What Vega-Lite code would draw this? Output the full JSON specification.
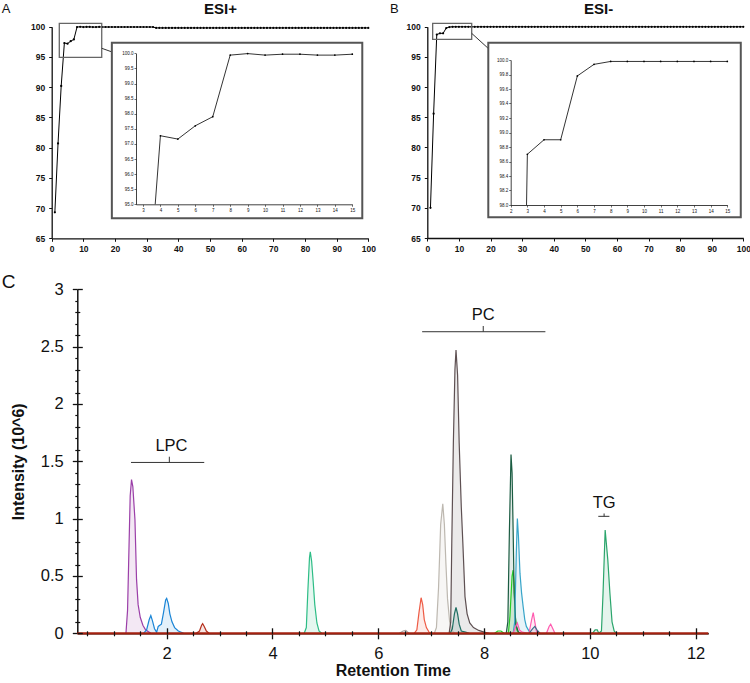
{
"$schema":"https://vega.github.io/schema/vega-lite/v6.json",
"width":750,"height":683,"autosize":"none","padding":0,"background":"white",
"config":{"view":{"stroke":null},"axis":{"grid":false,"labelFont":"Liberation Sans","titleFont":"Liberation Sans","domainColor":"#111","tickColor":"#111","labelColor":"#111","titleColor":"#111","labelFlush":false,"labelOverlap":false},"text":{"font":"Liberation Sans","color":"#111"}},
"datasets":{
"posMain":[{"x":1,"y":69.3},{"x":2,"y":80.7},{"x":3,"y":90.2},{"x":4,"y":97.3},{"x":5,"y":97.2},{"x":6,"y":97.6},{"x":7,"y":97.9},{"x":8,"y":99.94},{"x":9,"y":99.99},{"x":10,"y":99.94},{"x":11,"y":99.97},{"x":12,"y":99.97},{"x":13,"y":99.94},{"x":14,"y":99.94},{"x":15,"y":99.97},{"x":16,"y":99.95},{"x":17,"y":99.95},{"x":18,"y":99.95},{"x":19,"y":99.95},{"x":20,"y":99.95},{"x":21,"y":99.95},{"x":22,"y":99.95},{"x":23,"y":99.95},{"x":24,"y":99.95},{"x":25,"y":99.95},{"x":26,"y":99.95},{"x":27,"y":99.95},{"x":28,"y":99.95},{"x":29,"y":99.95},{"x":30,"y":99.95},{"x":31,"y":99.95},{"x":32,"y":99.95},{"x":33,"y":99.8},{"x":34,"y":99.8},{"x":35,"y":99.8},{"x":36,"y":99.8},{"x":37,"y":99.8},{"x":38,"y":99.8},{"x":39,"y":99.8},{"x":40,"y":99.8},{"x":41,"y":99.8},{"x":42,"y":99.8},{"x":43,"y":99.8},{"x":44,"y":99.8},{"x":45,"y":99.8},{"x":46,"y":99.8},{"x":47,"y":99.8},{"x":48,"y":99.8},{"x":49,"y":99.8},{"x":50,"y":99.8},{"x":51,"y":99.8},{"x":52,"y":99.8},{"x":53,"y":99.8},{"x":54,"y":99.8},{"x":55,"y":99.8},{"x":56,"y":99.8},{"x":57,"y":99.8},{"x":58,"y":99.8},{"x":59,"y":99.8},{"x":60,"y":99.8},{"x":61,"y":99.8},{"x":62,"y":99.8},{"x":63,"y":99.8},{"x":64,"y":99.8},{"x":65,"y":99.8},{"x":66,"y":99.8},{"x":67,"y":99.8},{"x":68,"y":99.8},{"x":69,"y":99.8},{"x":70,"y":99.8},{"x":71,"y":99.8},{"x":72,"y":99.8},{"x":73,"y":99.8},{"x":74,"y":99.8},{"x":75,"y":99.8},{"x":76,"y":99.8},{"x":77,"y":99.8},{"x":78,"y":99.8},{"x":79,"y":99.8},{"x":80,"y":99.8},{"x":81,"y":99.8},{"x":82,"y":99.8},{"x":83,"y":99.8},{"x":84,"y":99.8},{"x":85,"y":99.8},{"x":86,"y":99.8},{"x":87,"y":99.8},{"x":88,"y":99.8},{"x":89,"y":99.8},{"x":90,"y":99.8},{"x":91,"y":99.8},{"x":92,"y":99.8},{"x":93,"y":99.8},{"x":94,"y":99.8},{"x":95,"y":99.8},{"x":96,"y":99.8},{"x":97,"y":99.8},{"x":98,"y":99.8},{"x":99,"y":99.8},{"x":100,"y":99.8}],
"negMain":[{"x":1,"y":70.0},{"x":2,"y":85.6},{"x":3,"y":98.7},{"x":4,"y":98.9},{"x":5,"y":98.9},{"x":6,"y":99.78},{"x":7,"y":99.94},{"x":8,"y":99.98},{"x":9,"y":99.98},{"x":10,"y":99.98},{"x":11,"y":99.98},{"x":12,"y":99.98},{"x":13,"y":99.98},{"x":14,"y":99.98},{"x":15,"y":99.98},{"x":16,"y":99.98},{"x":17,"y":99.98},{"x":18,"y":99.98},{"x":19,"y":99.98},{"x":20,"y":99.98},{"x":21,"y":99.98},{"x":22,"y":99.98},{"x":23,"y":99.98},{"x":24,"y":99.98},{"x":25,"y":99.98},{"x":26,"y":99.98},{"x":27,"y":99.98},{"x":28,"y":99.98},{"x":29,"y":99.98},{"x":30,"y":99.98},{"x":31,"y":99.98},{"x":32,"y":99.98},{"x":33,"y":99.98},{"x":34,"y":99.98},{"x":35,"y":99.98},{"x":36,"y":99.98},{"x":37,"y":99.98},{"x":38,"y":99.98},{"x":39,"y":99.98},{"x":40,"y":99.98},{"x":41,"y":99.98},{"x":42,"y":99.98},{"x":43,"y":99.98},{"x":44,"y":99.98},{"x":45,"y":99.98},{"x":46,"y":99.98},{"x":47,"y":99.98},{"x":48,"y":99.98},{"x":49,"y":99.98},{"x":50,"y":99.98},{"x":51,"y":99.98},{"x":52,"y":99.98},{"x":53,"y":99.98},{"x":54,"y":99.98},{"x":55,"y":99.98},{"x":56,"y":99.98},{"x":57,"y":99.98},{"x":58,"y":99.98},{"x":59,"y":99.98},{"x":60,"y":99.98},{"x":61,"y":99.98},{"x":62,"y":99.98},{"x":63,"y":99.98},{"x":64,"y":99.98},{"x":65,"y":99.98},{"x":66,"y":99.98},{"x":67,"y":99.98},{"x":68,"y":99.98},{"x":69,"y":99.98},{"x":70,"y":99.98},{"x":71,"y":99.98},{"x":72,"y":99.98},{"x":73,"y":99.98},{"x":74,"y":99.98},{"x":75,"y":99.98},{"x":76,"y":99.98},{"x":77,"y":99.98},{"x":78,"y":99.98},{"x":79,"y":99.98},{"x":80,"y":99.98},{"x":81,"y":99.98},{"x":82,"y":99.98},{"x":83,"y":99.98},{"x":84,"y":99.98},{"x":85,"y":99.98},{"x":86,"y":99.98},{"x":87,"y":99.98},{"x":88,"y":99.98},{"x":89,"y":99.98},{"x":90,"y":99.98},{"x":91,"y":99.98},{"x":92,"y":99.98},{"x":93,"y":99.98},{"x":94,"y":99.98},{"x":95,"y":99.98},{"x":96,"y":99.98},{"x":97,"y":99.98},{"x":98,"y":99.98},{"x":99,"y":99.98},{"x":100,"y":99.98}],
"posInset":[{"x":3.7,"y":95.0},{"x":4,"y":97.27},{"x":5,"y":97.16},{"x":6,"y":97.6},{"x":7,"y":97.9},{"x":8,"y":99.94},{"x":9,"y":99.99},{"x":10,"y":99.94},{"x":11,"y":99.97},{"x":12,"y":99.97},{"x":13,"y":99.94},{"x":14,"y":99.94},{"x":15,"y":99.97}],
"negInset":[{"x":2.95,"y":98.0},{"x":3,"y":98.7},{"x":4,"y":98.9},{"x":5,"y":98.9},{"x":6,"y":99.78},{"x":7,"y":99.94},{"x":8,"y":99.98},{"x":9,"y":99.98},{"x":10,"y":99.98},{"x":11,"y":99.98},{"x":12,"y":99.98},{"x":13,"y":99.98},{"x":14,"y":99.98},{"x":15,"y":99.98}],
"chrom":[
{"s":"LPC1","x":1.23,"y":0},{"s":"LPC1","x":1.26,"y":0.2},{"s":"LPC1","x":1.28,"y":0.6},{"s":"LPC1","x":1.31,"y":1.2},{"s":"LPC1","x":1.335,"y":1.34},{"s":"LPC1","x":1.36,"y":1.28},{"s":"LPC1","x":1.40,"y":0.99},{"s":"LPC1","x":1.43,"y":0.47},{"s":"LPC1","x":1.46,"y":0.25},{"s":"LPC1","x":1.50,"y":0.14},{"s":"LPC1","x":1.55,"y":0.07},{"s":"LPC1","x":1.60,"y":0.03},{"s":"LPC1","x":1.70,"y":0},
{"s":"LPC2","x":1.56,"y":0},{"s":"LPC2","x":1.62,"y":0.03},{"s":"LPC2","x":1.67,"y":0.12},{"s":"LPC2","x":1.70,"y":0.155},{"s":"LPC2","x":1.73,"y":0.11},{"s":"LPC2","x":1.77,"y":0.04},{"s":"LPC2","x":1.81,"y":0.01},{"s":"LPC2","x":1.84,"y":0.06},{"s":"LPC2","x":1.87,"y":0.07},{"s":"LPC2","x":1.90,"y":0.08},{"s":"LPC2","x":1.94,"y":0.18},{"s":"LPC2","x":1.98,"y":0.29},{"s":"LPC2","x":2.00,"y":0.305},{"s":"LPC2","x":2.03,"y":0.26},{"s":"LPC2","x":2.06,"y":0.17},{"s":"LPC2","x":2.10,"y":0.1},{"s":"LPC2","x":2.15,"y":0.05},{"s":"LPC2","x":2.22,"y":0.02},{"s":"LPC2","x":2.32,"y":0},
{"s":"LPC3","x":2.56,"y":0},{"s":"LPC3","x":2.62,"y":0.02},{"s":"LPC3","x":2.66,"y":0.07},{"s":"LPC3","x":2.68,"y":0.084},{"s":"LPC3","x":2.71,"y":0.06},{"s":"LPC3","x":2.75,"y":0.02},{"s":"LPC3","x":2.80,"y":0},
{"s":"P47","x":4.60,"y":0},{"s":"P47","x":4.64,"y":0.05},{"s":"P47","x":4.67,"y":0.38},{"s":"P47","x":4.70,"y":0.66},{"s":"P47","x":4.715,"y":0.71},{"s":"P47","x":4.74,"y":0.63},{"s":"P47","x":4.77,"y":0.45},{"s":"P47","x":4.80,"y":0.25},{"s":"P47","x":4.84,"y":0.09},{"s":"P47","x":4.88,"y":0.02},{"s":"P47","x":4.93,"y":0},
{"s":"PC0","x":6.40,"y":0},{"s":"PC0","x":6.47,"y":0.02},{"s":"PC0","x":6.52,"y":0.025},{"s":"PC0","x":6.58,"y":0},
{"s":"PC1","x":6.68,"y":0},{"s":"PC1","x":6.73,"y":0.03},{"s":"PC1","x":6.77,"y":0.18},{"s":"PC1","x":6.81,"y":0.31},{"s":"PC1","x":6.84,"y":0.25},{"s":"PC1","x":6.87,"y":0.12},{"s":"PC1","x":6.91,"y":0.05},{"s":"PC1","x":6.96,"y":0.01},{"s":"PC1","x":7.0,"y":0},
{"s":"PC2","x":7.06,"y":0},{"s":"PC2","x":7.10,"y":0.05},{"s":"PC2","x":7.14,"y":0.4},{"s":"PC2","x":7.18,"y":0.95},{"s":"PC2","x":7.22,"y":1.13},{"s":"PC2","x":7.25,"y":0.95},{"s":"PC2","x":7.28,"y":0.6},{"s":"PC2","x":7.31,"y":0.3},{"s":"PC2","x":7.35,"y":0.1},{"s":"PC2","x":7.40,"y":0.02},{"s":"PC2","x":7.45,"y":0},
{"s":"PC3","x":7.34,"y":0},{"s":"PC3","x":7.37,"y":0.1},{"s":"PC3","x":7.39,"y":0.78},{"s":"PC3","x":7.42,"y":1.66},{"s":"PC3","x":7.45,"y":2.3},{"s":"PC3","x":7.47,"y":2.47},{"s":"PC3","x":7.50,"y":2.25},{"s":"PC3","x":7.53,"y":1.66},{"s":"PC3","x":7.57,"y":1.1},{"s":"PC3","x":7.60,"y":0.78},{"s":"PC3","x":7.64,"y":0.32},{"s":"PC3","x":7.68,"y":0.17},{"s":"PC3","x":7.73,"y":0.09},{"s":"PC3","x":7.80,"y":0.05},{"s":"PC3","x":7.90,"y":0.025},{"s":"PC3","x":8.0,"y":0.01},{"s":"PC3","x":8.1,"y":0},
{"s":"PC4","x":7.36,"y":0},{"s":"PC4","x":7.40,"y":0.04},{"s":"PC4","x":7.44,"y":0.17},{"s":"PC4","x":7.47,"y":0.225},{"s":"PC4","x":7.50,"y":0.17},{"s":"PC4","x":7.53,"y":0.08},{"s":"PC4","x":7.57,"y":0.02},{"s":"PC4","x":7.65,"y":0.01},{"s":"PC4","x":7.72,"y":0},
{"s":"PC6","x":8.20,"y":0},{"s":"PC6","x":8.26,"y":0.02},{"s":"PC6","x":8.32,"y":0.02},{"s":"PC6","x":8.38,"y":0},{"s":"PC6","x":8.46,"y":0},{"s":"PC6","x":8.49,"y":0.15},{"s":"PC6","x":8.53,"y":0.5},{"s":"PC6","x":8.55,"y":0.55},{"s":"PC6","x":8.57,"y":0.4},{"s":"PC6","x":8.59,"y":0.15},{"s":"PC6","x":8.62,"y":0.03},{"s":"PC6","x":8.66,"y":0},
{"s":"PC5","x":8.42,"y":0},{"s":"PC5","x":8.45,"y":0.1},{"s":"PC5","x":8.48,"y":0.9},{"s":"PC5","x":8.51,"y":1.56},{"s":"PC5","x":8.53,"y":1.4},{"s":"PC5","x":8.55,"y":0.9},{"s":"PC5","x":8.57,"y":0.35},{"s":"PC5","x":8.60,"y":0.08},{"s":"PC5","x":8.65,"y":0.01},{"s":"PC5","x":8.7,"y":0},
{"s":"PC7","x":8.55,"y":0},{"s":"PC7","x":8.58,"y":0.1},{"s":"PC7","x":8.61,"y":0.7},{"s":"PC7","x":8.63,"y":1.0},{"s":"PC7","x":8.65,"y":0.85},{"s":"PC7","x":8.68,"y":0.52},{"s":"PC7","x":8.71,"y":0.35},{"s":"PC7","x":8.74,"y":0.23},{"s":"PC7","x":8.77,"y":0.12},{"s":"PC7","x":8.80,"y":0.06},{"s":"PC7","x":8.85,"y":0.02},{"s":"PC7","x":8.9,"y":0},
{"s":"PC8","x":8.55,"y":0},{"s":"PC8","x":8.60,"y":0.06},{"s":"PC8","x":8.63,"y":0.09},{"s":"PC8","x":8.67,"y":0.03},{"s":"PC8","x":8.72,"y":0.01},{"s":"PC8","x":8.85,"y":0},{"s":"PC8","x":8.90,"y":0.12},{"s":"PC8","x":8.93,"y":0.18},{"s":"PC8","x":8.96,"y":0.1},{"s":"PC8","x":8.99,"y":0.02},{"s":"PC8","x":9.05,"y":0},{"s":"PC8","x":9.18,"y":0},{"s":"PC8","x":9.23,"y":0.06},{"s":"PC8","x":9.26,"y":0.08},{"s":"PC8","x":9.29,"y":0.05},{"s":"PC8","x":9.34,"y":0},
{"s":"PC9","x":8.85,"y":0},{"s":"PC9","x":8.92,"y":0.04},{"s":"PC9","x":8.96,"y":0.06},{"s":"PC9","x":9.00,"y":0.03},{"s":"PC9","x":9.06,"y":0},
{"s":"TG1","x":10.05,"y":0},{"s":"TG1","x":10.10,"y":0.03},{"s":"TG1","x":10.14,"y":0.03},{"s":"TG1","x":10.17,"y":0},{"s":"TG1","x":10.22,"y":0.02},{"s":"TG1","x":10.25,"y":0.35},{"s":"TG1","x":10.29,"y":0.9},{"s":"TG1","x":10.34,"y":0.64},{"s":"TG1","x":10.38,"y":0.35},{"s":"TG1","x":10.42,"y":0.1},{"s":"TG1","x":10.46,"y":0.02},{"s":"TG1","x":10.5,"y":0}
],
"base":[{"x":0.31,"y":0},{"x":12.24,"y":0}],
"brackets":[{"x":1.325,"x2":2.71,"y":1.49,"y2":1.49},{"x":2.05,"x2":2.05,"y":1.49,"y2":1.54},{"x":6.83,"x2":9.16,"y":2.63,"y2":2.63},{"x":7.985,"x2":7.985,"y":2.63,"y2":2.68},{"x":10.16,"x2":10.37,"y":1.02,"y2":1.02},{"x":10.27,"x2":10.27,"y":1.02,"y2":1.045}],
"classLabels":[{"t":"LPC","x":2.09,"y":1.593},{"t":"PC","x":7.985,"y":2.734},{"t":"TG","x":10.27,"y":1.091}]
},
"layer":[
{"layer":[
 {"data":{"name":"posMain"},"mark":{"type":"line","color":"#000","strokeWidth":1},
  "encoding":{"x":{"field":"x","type":"quantitative","scale":{"domain":[0,100],"range":[51.7,368.3],"nice":false,"zero":false},"axis":{"orient":"bottom","offset":-444.7,"values":[0,10,20,30,40,50,60,70,80,90,100],"title":null,"labelFontSize":8.5,"labelFontWeight":"bold","tickSize":3,"labelPadding":3,"domainWidth":1.3,"tickWidth":1}},
   "y":{"field":"y","type":"quantitative","scale":{"domain":[65,100],"range":[238.3,26.7],"nice":false,"zero":false},"axis":{"orient":"left","offset":-51.7,"values":[65,70,75,80,85,90,95,100],"title":null,"labelFontSize":8.5,"labelFontWeight":"bold","tickSize":3,"labelPadding":4,"domainWidth":1.3,"tickWidth":1}}}},
 {"data":{"name":"posMain"},"mark":{"type":"point","filled":true,"color":"#000","size":5,"opacity":1},"encoding":{"x":{"field":"x","type":"quantitative"},"y":{"field":"y","type":"quantitative"}}},
 {"data":{"values":[{"x":2.4,"x2":15.8,"y":94.94,"y2":100.56}]},"mark":{"type":"rect","fill":"transparent","stroke":"#666","strokeWidth":1.3},"encoding":{"x":{"field":"x","type":"quantitative"},"x2":{"field":"x2"},"y":{"field":"y","type":"quantitative"},"y2":{"field":"y2"}}},
 {"data":{"values":[{"x":15.8,"x2":18.8,"y":96.43,"y2":95.87}]},"mark":{"type":"rule","color":"#333","strokeWidth":1},"encoding":{"x":{"field":"x","type":"quantitative"},"x2":{"field":"x2"},"y":{"field":"y","type":"quantitative"},"y2":{"field":"y2"}}},
 {"data":{"values":[{"x":19.0,"x2":98.1,"y":68.33,"y2":97.36}]},"mark":{"type":"rect","fill":"white","stroke":"#555","strokeWidth":2},"encoding":{"x":{"field":"x","type":"quantitative"},"x2":{"field":"x2"},"y":{"field":"y","type":"quantitative"},"y2":{"field":"y2"}}},
 {"data":{"values":[{"t":"A","x":-15.8,"y":102.2}]},"mark":{"type":"text","align":"left","baseline":"alphabetic","fontSize":13},"encoding":{"x":{"field":"x","type":"quantitative"},"y":{"field":"y","type":"quantitative"},"text":{"field":"t"}}},
 {"data":{"values":[{"t":"ESI+","x":53.3,"y":102.1}]},"mark":{"type":"text","align":"center","baseline":"alphabetic","fontSize":15,"fontWeight":"bold"},"encoding":{"x":{"field":"x","type":"quantitative"},"y":{"field":"y","type":"quantitative"},"text":{"field":"t"}}}
]},
{"layer":[
 {"data":{"name":"posInset"},"mark":{"type":"line","color":"#000","strokeWidth":0.8},
  "encoding":{"x":{"field":"x","type":"quantitative","scale":{"domain":[2.6,15],"range":[136,352.3],"nice":false,"zero":false},"axis":{"orient":"bottom","offset":-478.7,"zindex":1,"values":[3,4,5,6,7,8,9,10,11,12,13,14,15],"format":"d","title":null,"labelFontSize":4.5,"tickSize":2,"labelPadding":1,"domainWidth":0.8,"tickWidth":0.6}},
   "y":{"field":"y","type":"quantitative","scale":{"domain":[95,100],"range":[204.3,53.3],"nice":false,"zero":false},"axis":{"orient":"left","offset":-136,"zindex":1,"values":[95,95.5,96,96.5,97,97.5,98,98.5,99,99.5,100],"format":".1f","title":null,"labelFontSize":4.5,"tickSize":2,"labelPadding":1,"domainWidth":0.8,"tickWidth":0.6}}}},
 {"data":{"name":"posInset"},"transform":[{"filter":"datum.x == floor(datum.x)"}],"mark":{"type":"point","filled":true,"color":"#000","size":3,"opacity":1},"encoding":{"x":{"field":"x","type":"quantitative"},"y":{"field":"y","type":"quantitative"}}}
]},
{"layer":[
 {"data":{"name":"negMain"},"mark":{"type":"line","color":"#000","strokeWidth":1},
  "encoding":{"x":{"field":"x","type":"quantitative","scale":{"domain":[0,100],"range":[427.3,743.3],"nice":false,"zero":false},"axis":{"orient":"bottom","offset":-445,"values":[0,10,20,30,40,50,60,70,80,90,100],"title":null,"labelFontSize":8.5,"labelFontWeight":"bold","tickSize":3,"labelPadding":3,"domainWidth":1.3,"tickWidth":1}},
   "y":{"field":"y","type":"quantitative","scale":{"domain":[65,100],"range":[238,26.7],"nice":false,"zero":false},"axis":{"orient":"left","offset":-427.3,"values":[65,70,75,80,85,90,95,100],"title":null,"labelFontSize":8.5,"labelFontWeight":"bold","tickSize":3,"labelPadding":4,"domainWidth":1.3,"tickWidth":1}}}},
 {"data":{"name":"negMain"},"mark":{"type":"point","filled":true,"color":"#000","size":5,"opacity":1},"encoding":{"x":{"field":"x","type":"quantitative"},"y":{"field":"y","type":"quantitative"}}},
 {"data":{"values":[{"x":1.7,"x2":14.05,"y":97.9,"y2":100.56}]},"mark":{"type":"rect","fill":"transparent","stroke":"#666","strokeWidth":1.3},"encoding":{"x":{"field":"x","type":"quantitative"},"x2":{"field":"x2"},"y":{"field":"y","type":"quantitative"},"y2":{"field":"y2"}}},
 {"data":{"values":[{"x":14.05,"x2":19.3,"y":98.9,"y2":96.4}]},"mark":{"type":"rule","color":"#333","strokeWidth":1},"encoding":{"x":{"field":"x","type":"quantitative"},"x2":{"field":"x2"},"y":{"field":"y","type":"quantitative"},"y2":{"field":"y2"}}},
 {"data":{"values":[{"x":19.3,"x2":99.2,"y":68.44,"y2":97.35}]},"mark":{"type":"rect","fill":"white","stroke":"#555","strokeWidth":2},"encoding":{"x":{"field":"x","type":"quantitative"},"x2":{"field":"x2"},"y":{"field":"y","type":"quantitative"},"y2":{"field":"y2"}}},
 {"data":{"values":[{"t":"B","x":-11.8,"y":102.2}]},"mark":{"type":"text","align":"left","baseline":"alphabetic","fontSize":13},"encoding":{"x":{"field":"x","type":"quantitative"},"y":{"field":"y","type":"quantitative"},"text":{"field":"t"}}},
 {"data":{"values":[{"t":"ESI-","x":54.2,"y":102.1}]},"mark":{"type":"text","align":"center","baseline":"alphabetic","fontSize":15,"fontWeight":"bold"},"encoding":{"x":{"field":"x","type":"quantitative"},"y":{"field":"y","type":"quantitative"},"text":{"field":"t"}}}
]},
{"layer":[
 {"data":{"name":"negInset"},"mark":{"type":"line","color":"#000","strokeWidth":0.8},
  "encoding":{"x":{"field":"x","type":"quantitative","scale":{"domain":[2,15],"range":[510.7,727.3],"nice":false,"zero":false},"axis":{"orient":"bottom","offset":-478,"zindex":1,"values":[2,3,4,5,6,7,8,9,10,11,12,13,14,15],"format":"d","title":null,"labelFontSize":4.5,"tickSize":2,"labelPadding":1,"domainWidth":0.8,"tickWidth":0.6}},
   "y":{"field":"y","type":"quantitative","scale":{"domain":[98,100],"range":[205,60],"nice":false,"zero":false},"axis":{"orient":"left","offset":-510.7,"zindex":1,"values":[98,98.1,98.2,98.3,98.4,98.5,98.6,98.7,98.8,98.9,99,99.1,99.2,99.3,99.4,99.5,99.6,99.7,99.8,99.9,100],"format":".1f","title":null,"labelFontSize":4.5,"tickSize":2,"labelPadding":1,"domainWidth":0.8,"tickWidth":0.6}}}},
 {"data":{"name":"negInset"},"transform":[{"filter":"datum.x == floor(datum.x)"}],"mark":{"type":"point","filled":true,"color":"#000","size":3,"opacity":1},"encoding":{"x":{"field":"x","type":"quantitative"},"y":{"field":"y","type":"quantitative"}}}
]},
{"data":{"name":"chrom"},"mark":{"type":"area","fillOpacity":0.12,"interpolate":"linear"},
 "encoding":{"x":{"field":"x","type":"quantitative","scale":{"domain":[0.31,12.24],"range":[77.3,708.3],"nice":false,"zero":false},"axis":{"orient":"bottom","offset":-49.7,"zindex":1,"values":[0.5,1,1.5,2.5,3,3.5,4.5,5,5.5,6.5,7,7.5,8.5,9,9.5,10.5,11,11.5],"labels":false,"domain":false,"title":null,"tickSize":2.5,"tickWidth":1.2}},
  "y":{"field":"y","type":"quantitative","stack":null,"scale":{"domain":[0,3],"range":[633.3,289.3],"nice":false,"zero":false},"axis":{"orient":"left","offset":-77.3,"zindex":1,"values":[0.1,0.2,0.3,0.4,0.6,0.7,0.8,0.9,1.1,1.2,1.3,1.4,1.6,1.7,1.8,1.9,2.1,2.2,2.3,2.4,2.6,2.7,2.8,2.9],"labels":false,"domain":false,"title":null,"tickSize":2.5,"tickWidth":1.2}},
  "y2":{"datum":0},
  "color":{"field":"s","type":"nominal","legend":null,"scale":{"domain":["LPC1","LPC2","LPC3","P47","PC0","PC1","PC2","PC3","PC4","PC6","PC5","PC7","PC8","PC9","TG1"],"range":["#9b3fa8","#1a85d6","#b5301e","#2dbd86","#aaa4a2","#ee5b45","#bdb8b0","#5e5052","#1e6e62","#26cc26","#1b5c42","#38a5c9","#ff5cb0","#3c6e8a","#2ba56c"]}}}},
{"data":{"name":"chrom"},"mark":{"type":"line","strokeWidth":1.2,"interpolate":"linear"},
 "encoding":{"x":{"field":"x","type":"quantitative","scale":{"domain":[0.31,12.24],"range":[77.3,708.3],"nice":false,"zero":false},"axis":{"orient":"bottom","offset":-49.7,"values":[2,4,6,8,10,12],"title":"Retention Time","titleFontSize":16,"titleFontWeight":"bold","titlePadding":0,"labelFontSize":16.5,"labelPadding":7,"tickSize":5.5,"tickWidth":1.3,"domainWidth":1.5}},
  "y":{"field":"y","type":"quantitative","stack":null,"scale":{"domain":[0,3],"range":[633.3,289.3],"nice":false,"zero":false},"axis":{"orient":"left","offset":-77.3,"values":[0,0.5,1,1.5,2,2.5,3],"format":"~g","title":"Intensity (10^6)","titleFontSize":16,"titleFontWeight":"bold","titlePadding":14,"labelFontSize":16.5,"labelPadding":9,"tickSize":5,"tickWidth":1.3,"domainWidth":1.5}},
  "color":{"field":"s","type":"nominal","legend":null,"scale":{"domain":["LPC1","LPC2","LPC3","P47","PC0","PC1","PC2","PC3","PC4","PC6","PC5","PC7","PC8","PC9","TG1"],"range":["#9b3fa8","#1a85d6","#b5301e","#2dbd86","#aaa4a2","#ee5b45","#bdb8b0","#5e5052","#1e6e62","#26cc26","#1b5c42","#38a5c9","#ff5cb0","#3c6e8a","#2ba56c"]}}}},
{"data":{"name":"base"},"mark":{"type":"line","color":"#a3200f","strokeWidth":2.2},
 "encoding":{"x":{"field":"x","type":"quantitative","scale":{"domain":[0.31,12.24],"range":[77.3,708.3],"nice":false,"zero":false},"axis":{"orient":"bottom","offset":-49.7,"zindex":1,"values":[2,4,6,8,10,12],"labels":false,"domain":false,"title":null,"tickSize":-5.5,"tickWidth":1.3}},
  "y":{"field":"y","type":"quantitative","scale":{"domain":[0,3],"range":[633.3,289.3],"nice":false,"zero":false},"axis":{"orient":"left","offset":-77.3,"zindex":1,"values":[0,0.5,1,1.5,2,2.5,3],"labels":false,"domain":false,"title":null,"tickSize":-5,"tickWidth":1.3}}}},
{"layer":[
 {"data":{"name":"brackets"},"mark":{"type":"rule","color":"#333","strokeWidth":1},
  "encoding":{"x":{"field":"x","type":"quantitative","scale":{"domain":[0.31,12.24],"range":[77.3,708.3],"nice":false,"zero":false},"axis":{"orient":"bottom","offset":-49.7,"zindex":1,"values":[0.5,1,1.5,2.5,3,3.5,4.5,5,5.5,6.5,7,7.5,8.5,9,9.5,10.5,11,11.5],"labels":false,"domain":false,"title":null,"tickSize":-2.5,"tickWidth":1.2}},
   "x2":{"field":"x2"},
   "y":{"field":"y","type":"quantitative","scale":{"domain":[0,3],"range":[633.3,289.3],"nice":false,"zero":false},"axis":{"orient":"left","offset":-77.3,"zindex":1,"values":[0.1,0.2,0.3,0.4,0.6,0.7,0.8,0.9,1.1,1.2,1.3,1.4,1.6,1.7,1.8,1.9,2.1,2.2,2.3,2.4,2.6,2.7,2.8,2.9],"labels":false,"domain":false,"title":null,"tickSize":-2.5,"tickWidth":1.2}},
   "y2":{"field":"y2"}}},
 {"data":{"name":"classLabels"},"mark":{"type":"text","align":"center","baseline":"alphabetic","fontSize":16.5},"encoding":{"x":{"field":"x","type":"quantitative"},"y":{"field":"y","type":"quantitative"},"text":{"field":"t"}}},
 {"data":{"values":[{"t":"C","x":-1.12,"y":3.013}]},"mark":{"type":"text","align":"left","baseline":"alphabetic","fontSize":19},"encoding":{"x":{"field":"x","type":"quantitative"},"y":{"field":"y","type":"quantitative"},"text":{"field":"t"}}}
]}
],
"resolve":{"scale":{"x":"independent","y":"independent","color":"independent"},"axis":{"x":"independent","y":"independent"}}
}
